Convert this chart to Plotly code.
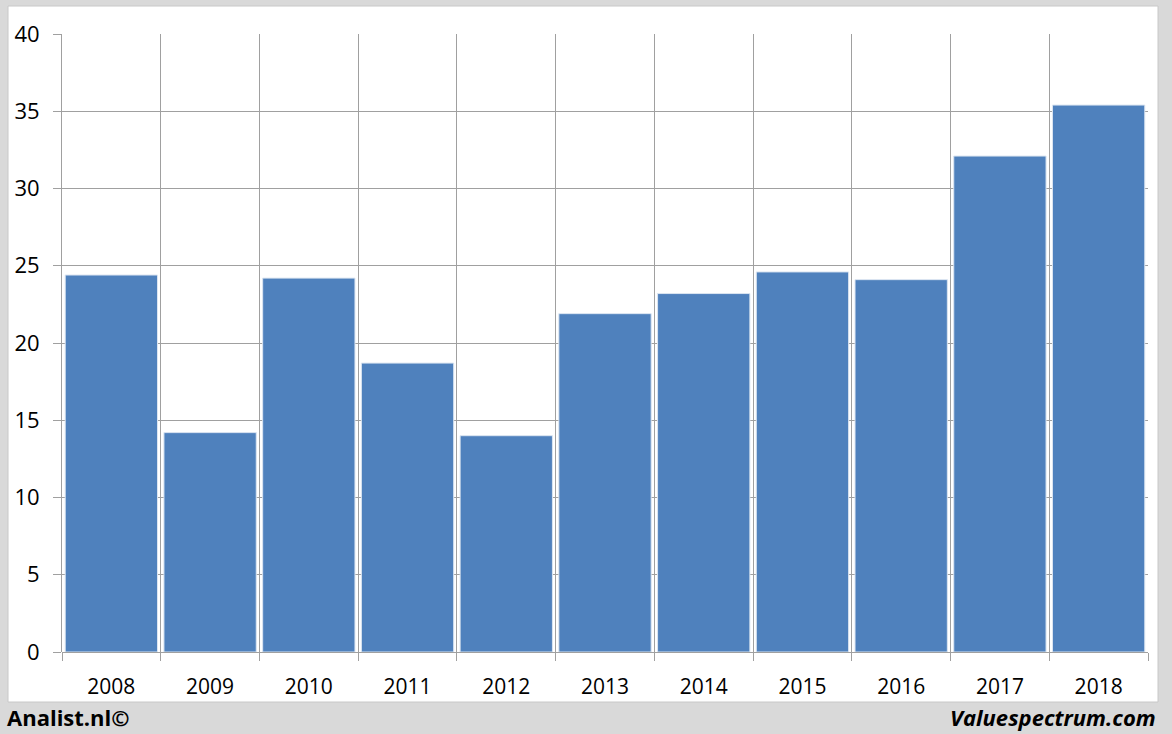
import plotly.graph_objects as go

years = ["2008", "2009", "2010", "2011", "2012", "2013", "2014", "2015", "2016", "2017", "2018"]
values = [24.4, 14.2, 24.2, 18.7, 14.0, 21.9, 23.2, 24.6, 24.1, 32.1, 35.4]
y_ticks = [0, 5, 10, 15, 20, 25, 30, 35, 40]

bar_color = "#4f81bd"
grid_color = "#a0a0a0"
font_family = "Open Sans, Liberation Sans, sans-serif"

n = len(years)
boundaries = [i - 0.5 for i in range(n + 1)]

fig = go.Figure()
fig.add_trace(go.Bar(
    x=years, y=values,
    marker=dict(color=bar_color, line=dict(color="#dbe5f1", width=1)),
    hoverinfo="x+y",
))
fig.add_trace(go.Scatter(x=[], y=[], xaxis="x2", yaxis="y", showlegend=False))

fig.update_layout(
    width=1172, height=734,
    paper_bgcolor="#d9d9d9",
    plot_bgcolor="white",
    margin=dict(l=62, r=24, t=34, b=82),
    showlegend=False,
    bargap=0.065,
    font=dict(family=font_family, size=20, color="black"),
    xaxis=dict(
        type="category",
        showgrid=False, zeroline=False, showline=False,
        ticks="outside", ticklen=0, ticklabelstandoff=16,
        tickfont=dict(size=21),
    ),
    xaxis2=dict(
        overlaying="x", side="bottom", anchor="y",
        range=[-0.5, n - 0.5],
        tickvals=boundaries, showticklabels=False,
        showgrid=True, gridcolor=grid_color, gridwidth=1,
        ticks="outside", ticklen=8, tickcolor=grid_color,
        zeroline=False, showline=False,
    ),
    yaxis=dict(
        range=[0, 40], tickvals=y_ticks,
        showgrid=True, gridcolor=grid_color, gridwidth=1,
        ticks="outside", ticklen=8, tickcolor=grid_color,
        showline=True, linecolor=grid_color, linewidth=1,
        zeroline=True, zerolinecolor=grid_color, zerolinewidth=1,
        tickfont=dict(size=22), ticklabelstandoff=9,
    ),
    shapes=[dict(
        type="rect", xref="paper", yref="paper", layer="below",
        x0=-54 / 1086, x1=1 + 10 / 1086, y0=-50 / 618, y1=1 + 28 / 618,
        fillcolor="white", line=dict(color="#c8c8c8", width=1),
    )],
    annotations=[
        dict(text="<b>Analist.nl©</b>", xref="paper", yref="paper",
             x=-57 / 1086, y=-65 / 618, xanchor="left", yanchor="middle",
             showarrow=False, font=dict(size=22, family=font_family)),
        dict(text="<b><i>Valuespectrum.com</i></b>", xref="paper", yref="paper",
             x=1 + 10 / 1086, y=-65 / 618, xanchor="right", yanchor="middle",
             showarrow=False, font=dict(size=22, family=font_family)),
    ],
)

fig.write_html(
    "out.html",
    config={"displayModeBar": False},
    post_script="document.body.style.margin='0';document.body.style.background='#d9d9d9';",
)
